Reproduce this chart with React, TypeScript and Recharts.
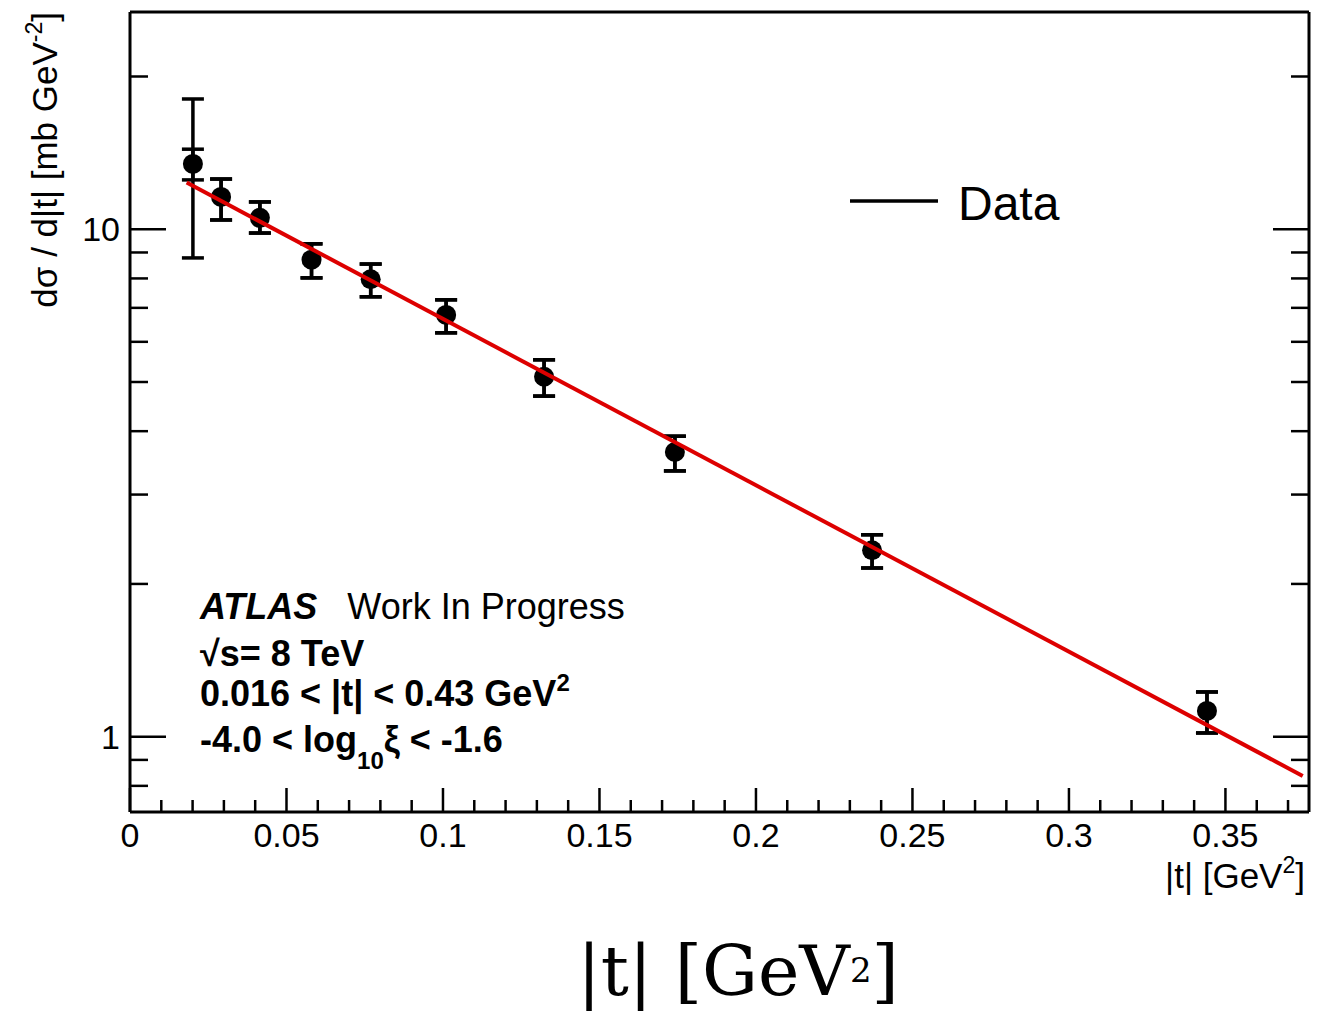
import React from "react";
import { ComposedChart, Scatter, XAxis, YAxis, ErrorBar } from "recharts";

// measured |t| bins and cross section
const T_VALUES = [0.0201, 0.0291, 0.0415, 0.058, 0.0769, 0.101, 0.1323, 0.1741, 0.2371, 0.3441];
const DSIGMA = [13.45, 11.58, 10.53, 8.71, 7.97, 6.78, 5.12, 3.64, 2.33, 1.124];
const TOTAL_HIGH = [18.06, 12.56, 11.32, 9.36, 8.54, 7.26, 5.53, 3.91, 2.5, 1.225];
const TOTAL_LOW = [8.78, 10.43, 9.83, 8.02, 7.36, 6.25, 4.69, 3.34, 2.15, 1.017];
const STAT_HIGH = [14.38, 12.56, 11.32, 9.36, 8.54, 7.26, 5.53, 3.91, 2.5, 1.225];
const STAT_LOW = [12.51, 10.43, 9.83, 8.02, 7.36, 6.25, 4.69, 3.34, 2.15, 1.017];

// exponential fit, end points
const FIT_T = [0.0181, 0.3747];
const FIT_VALUES = [12.36, 0.8367];

const X_TICKS = [
  0, 0.01, 0.02, 0.03, 0.04, 0.05, 0.06, 0.07, 0.08, 0.09, 0.1, 0.11, 0.12, 0.13, 0.14, 0.15, 0.16,
  0.17, 0.18, 0.19, 0.2, 0.21, 0.22, 0.23, 0.24, 0.25, 0.26, 0.27, 0.28, 0.29, 0.3, 0.31, 0.32, 0.33,
  0.34, 0.35, 0.36, 0.37,
];
const X_MAJOR = [0, 0.05, 0.1, 0.15, 0.2, 0.25, 0.3, 0.35];
const Y_TICKS = [0.8, 0.9, 1, 2, 3, 4, 5, 6, 7, 8, 9, 10, 20];
const Y_MAJOR = [1, 10];

const X_DOMAIN: [number, number] = [0, 0.3767];
const Y_DOMAIN: [number, number] = [0.7105, 26.8];

const FONT = "'Liberation Sans', Arial, Helvetica, sans-serif";

const data = T_VALUES.map((t, i) => ({
  x: t,
  y: DSIGMA[i],
  total: [DSIGMA[i] - TOTAL_LOW[i], TOTAL_HIGH[i] - DSIGMA[i]],
  stat: [DSIGMA[i] - STAT_LOW[i], STAT_HIGH[i] - DSIGMA[i]],
}));

const fitData = FIT_T.map((t, i) => ({ x: t, y: FIT_VALUES[i] }));

const isIn = (list: number[], v: number) => list.some((m) => Math.abs(m - v) < 1e-9);

function makeXTick(side: "bottom" | "top") {
  return (props: any) => {
    const { x, y, payload } = props;
    const major = isIn(X_MAJOR, payload.value);
    const len = major ? 24 : 12;
    const dir = side === "bottom" ? -1 : 1;
    return (
      <g>
        <line x1={x} x2={x} y1={y} y2={y + dir * len} stroke="#000" strokeWidth={2.5} />
        {side === "bottom" && major && (
          <text x={x} y={y + 35} textAnchor="middle" fontSize={34} fontFamily={FONT} fill="#000">
            {String(payload.value)}
          </text>
        )}
      </g>
    );
  };
}

function makeYTick(side: "left" | "right") {
  return (props: any) => {
    const { x, y, payload } = props;
    const major = isIn(Y_MAJOR, payload.value);
    const len = major ? 36 : 18;
    const dir = side === "left" ? 1 : -1;
    return (
      <g>
        <line x1={x} x2={x + dir * len} y1={y} y2={y} stroke="#000" strokeWidth={2.5} />
        {side === "left" && major && (
          <text x={x - 10} y={y + 12} textAnchor="end" fontSize={34} fontFamily={FONT} fill="#000">
            {String(payload.value)}
          </text>
        )}
      </g>
    );
  };
}

const Dot = (props: any) => <circle cx={props.cx} cy={props.cy} r={10} fill="#000" />;

export default function App() {
  const axisLine = { stroke: "#000", strokeWidth: 3 };
  return (
    <div style={{ position: "absolute", left: 0, top: 0, width: 1326, height: 1013, background: "#fff" }}>
      <ComposedChart width={1326} height={1013} margin={{ top: 2, right: 7, bottom: 141, left: 70 }}>
        <XAxis
          xAxisId="bottom"
          dataKey="x"
          type="number"
          domain={X_DOMAIN}
          allowDataOverflow
          ticks={X_TICKS}
          interval={0}
          height={60}
          tickSize={0}
          tickMargin={0}
          tickLine={false}
          axisLine={axisLine}
          tick={makeXTick("bottom")}
        />
        <XAxis
          xAxisId="top"
          orientation="top"
          type="number"
          domain={X_DOMAIN}
          allowDataOverflow
          ticks={X_TICKS}
          interval={0}
          height={10}
          tickSize={0}
          tickMargin={0}
          tickLine={false}
          axisLine={axisLine}
          tick={makeXTick("top")}
        />
        <YAxis
          yAxisId="left"
          dataKey="y"
          type="number"
          scale="log"
          domain={Y_DOMAIN}
          allowDataOverflow
          ticks={Y_TICKS}
          interval={0}
          width={60}
          tickSize={0}
          tickMargin={0}
          tickLine={false}
          axisLine={axisLine}
          tick={makeYTick("left")}
        />
        <YAxis
          yAxisId="right"
          orientation="right"
          type="number"
          scale="log"
          domain={Y_DOMAIN}
          allowDataOverflow
          ticks={Y_TICKS}
          interval={0}
          width={10}
          tickSize={0}
          tickMargin={0}
          tickLine={false}
          axisLine={axisLine}
          tick={makeYTick("right")}
        />
        <Scatter
          data={data}
          xAxisId="bottom"
          yAxisId="left"
          shape={Dot}
          isAnimationActive={false}
        >
          <ErrorBar dataKey="total" direction="y" width={11} stroke="#000" strokeWidth={3.5} isAnimationActive={false} />
          <ErrorBar dataKey="stat" direction="y" width={11} stroke="#000" strokeWidth={3.5} isAnimationActive={false} />
        </Scatter>
        <Scatter
          data={fitData}
          xAxisId="bottom"
          yAxisId="left"
          line={{ stroke: "#dd0000", strokeWidth: 4 }}
          shape={() => <g />}
          isAnimationActive={false}
        />
      </ComposedChart>
      <svg
        width={1326}
        height={1013}
        style={{ position: "absolute", left: 0, top: 0, pointerEvents: "none" }}
      >
        <text
          transform="translate(57,12) rotate(-90)"
          textAnchor="end"
          fontSize={35}
          fontFamily={FONT}
          fill="#000"
        >
          dσ / d|t| [mb GeV
          <tspan fontSize={23} dy={-15}>-2</tspan>
          <tspan dy={15}>]</tspan>
        </text>
        <text x={1305} y={888} textAnchor="end" fontSize={35} fontFamily={FONT} fill="#000">
          |t| [GeV<tspan fontSize={23} dy={-15}>2</tspan>
          <tspan dy={15}>]</tspan>
        </text>
        <line x1={850} x2={938} y1={201} y2={201} stroke="#000" strokeWidth={3.5} />
        <text x={958} y={220} fontSize={48} fontFamily={FONT} fill="#000">
          Data
        </text>
        <g fontFamily={FONT} fontSize={36} fill="#000">
          <text x={200} y={619}>
            <tspan fontWeight="bold" fontStyle="italic">ATLAS</tspan>
            <tspan dx={30}>Work In Progress</tspan>
          </text>
          <text x={200} y={666} fontWeight="bold">√s= 8 TeV</text>
          <text x={200} y={706} fontWeight="bold">
            0.016 &lt; |t| &lt; 0.43 GeV<tspan fontSize={24} dy={-15}>2</tspan>
          </text>
          <text x={200} y={752} fontWeight="bold">
            -4.0 &lt; log<tspan fontSize={24} dy={17}>10</tspan>
            <tspan dy={-17}>ξ &lt; -1.6</tspan>
          </text>
        </g>
        <text x={738} y={995} textAnchor="middle" fontSize={70} fontFamily="'DejaVu Serif', serif" fill="#000">
          |t| [GeV<tspan fontSize={34} dy={-13}>2</tspan>
          <tspan dy={13}>]</tspan>
        </text>
      </svg>
    </div>
  );
}
